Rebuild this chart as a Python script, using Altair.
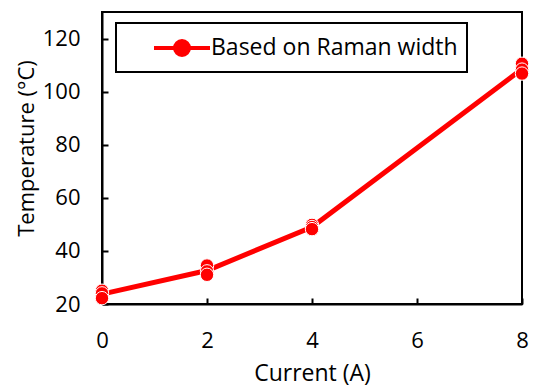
import altair as alt
import pandas as pd

current = [0, 0, 0, 2, 2, 2, 4, 4, 4, 8, 8, 8]
temperature = [25.0, 24.0, 22.2, 34.5, 32.3, 31.0, 49.8, 49.0, 48.2, 110.5, 108.3, 106.8]
series_name = "Based on Raman width"
x_ticks = [0, 2, 4, 6, 8]
y_ticks = [20, 40, 60, 80, 100, 120]

df = pd.DataFrame({
    "current": current,
    "temperature": temperature,
    "series": [series_name] * len(current),
})

FONT = "Open Sans"
RED = "#ff0000"

legend = alt.Legend(
    title=None, orient="none", legendX=14, legendY=11,
    padding=9, symbolOffset=41,
    strokeColor="black", fillColor="white",
    symbolType="M-2,0L2,0M-0.5,0A0.5,0.5 0 1,1 0.5,0A0.5,0.5 0 1,1 -0.5,0Z",
    symbolSize=784, symbolStrokeWidth=4,
    symbolFillColor=RED, symbolStrokeColor=RED,
    labelFont=FONT, labelFontSize=23, labelColor="black", labelOffset=13,
    labelLimit=400,
)

color = alt.Color("series:N", scale=alt.Scale(range=[RED]), legend=legend)

x = alt.X("current:Q", scale=alt.Scale(domain=[0, 8], nice=False),
          axis=alt.Axis(values=x_ticks, title="Current (A)", titleY=76,
                        titleBaseline="alphabetic", labelPadding=32,
                        labelFlush=False))

yscale = alt.Scale(domain=[20, 130], nice=False)
yaxis = alt.Axis(values=y_ticks, title="Temperature (°C)",
                 titleX=-69, titleY=136, titleAngle=-90, titleFontSize=22,
                 titleBaseline="alphabetic", labelPadding=28,
                 labelFlush=False)

line = alt.Chart(df).mark_line(strokeWidth=5).encode(
    x=x,
    y=alt.Y("mean(temperature):Q", scale=yscale, axis=yaxis),
    color=color,
)

points = alt.Chart(df).mark_point(filled=True, size=180, stroke="white",
                                  strokeWidth=1, opacity=1).encode(
    x=x,
    y=alt.Y("temperature:Q", scale=yscale, axis=yaxis),
    color=color,
)

chart = alt.layer(line, points).properties(
    width=420, height=292,
    autosize=alt.AutoSizeParams(type="none"),
    padding={"left": 94, "top": 4, "right": 7, "bottom": 83},
).configure_view(
    stroke="black", strokeWidth=2,
).configure_axis(
    grid=False,
    domainColor="black", domainWidth=2,
    tickColor="black", tickWidth=2, tickSize=alt.ExprRef(expr="-6"),
    labelFont=FONT, labelFontSize=22, labelColor="black",
    titleFont=FONT, titleFontSize=23, titleFontWeight="normal", titleColor="black",
).configure_legend(
    strokeWidth=2,
)

chart.save("out.html", embed_options={"renderer": "svg", "actions": False})
